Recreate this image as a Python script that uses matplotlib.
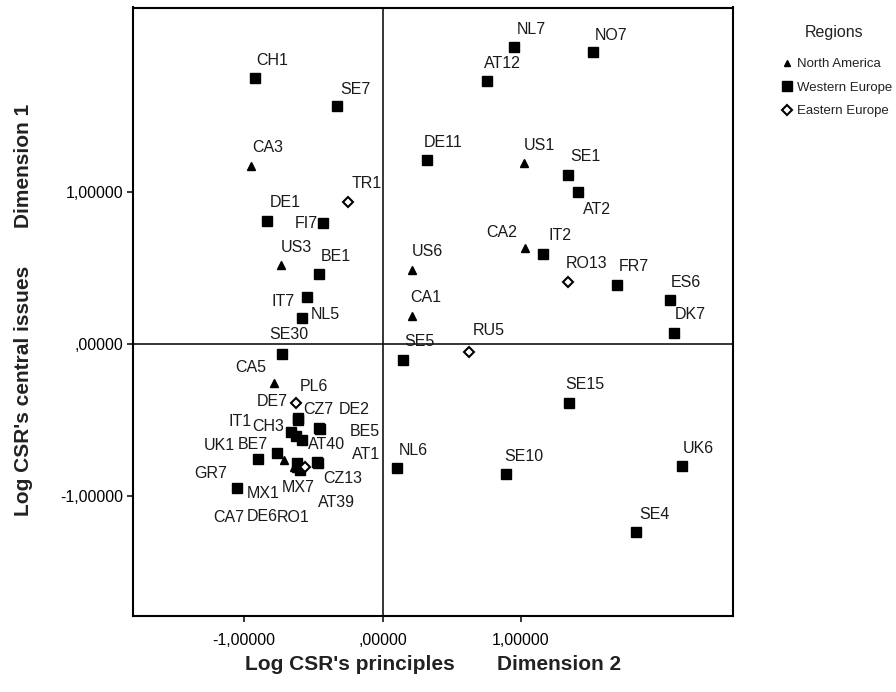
import matplotlib
matplotlib.use('Agg')
import matplotlib.pyplot as plt
from matplotlib import font_manager
from matplotlib.lines import Line2D
from matplotlib.ticker import FixedLocator, FuncFormatter

# ---------------- data ----------------
na_labels = ['CA3', 'US3', 'CA5', 'US6', 'CA1', 'US1', 'CA2', 'MX1', 'MX7', 'CA7']
na_x = [-0.949, -0.735, -0.781, 0.213, 0.211, 1.022, 1.031, -0.711, -0.625, -0.639]
na_y = [1.168, 0.516, -0.258, 0.484, 0.183, 1.186, 0.630, -0.766, -0.819, -0.813]

we_labels = ['CH1', 'SE7', 'DE1', 'FI7', 'BE1', 'IT7', 'NL5', 'SE30', 'DE7', 'CZ7',
             'DE2', 'BE5', 'IT1', 'CH3', 'AT40', 'UK1', 'BE7', 'AT39', 'DE6', 'CZ13',
             'AT1', 'GR7', 'NL7', 'NO7', 'AT12', 'DE11', 'SE1', 'AT2', 'IT2', 'FR7',
             'ES6', 'DK7', 'SE5', 'SE15', 'NL6', 'SE10', 'UK6', 'SE4']
we_x = [-0.921, -0.329, -0.832, -0.427, -0.456, -0.547, -0.579, -0.729, -0.610, -0.608,
        -0.456, -0.451, -0.661, -0.625, -0.581, -0.897, -0.762, -0.617, -0.596, -0.471,
        -0.466, -1.053, 0.952, 1.522, 0.755, 0.319, 1.337, 1.409, 1.159, 1.693,
        2.074, 2.105, 0.146, 1.344, 0.107, 0.892, 2.160, 1.830]
we_y = [1.747, 1.563, 0.806, 0.793, 0.457, 0.308, 0.166, -0.069, -0.490, -0.500,
        -0.554, -0.563, -0.582, -0.609, -0.635, -0.762, -0.720, -0.786, -0.832, -0.778,
        -0.786, -0.949, 1.953, 1.916, 1.727, 1.207, 1.109, 0.999, 0.589, 0.385,
        0.286, 0.067, -0.109, -0.389, -0.817, -0.859, -0.804, -1.242]

ee_labels = ['TR1', 'RO13', 'RU5', 'PL6', 'RO1']
ee_x = [-0.251, 1.342, 0.627, -0.625, -0.560]
ee_y = [0.929, 0.407, -0.054, -0.393, -0.813]

region_names = ['North America', 'Western Europe', 'Eastern Europe']
tick_values = [-1.0, 0.0, 1.0]

# label offsets in pixels (dx to label's left edge, dy downward to label centre)
label_offsets = {
    'CA3': (1, -18), 'US3': (0, -18), 'CA5': (-39, -15), 'US6': (0, -18),
    'CA1': (-1, -18), 'US1': (0, -18), 'CA2': (-39, -15), 'MX1': (-37, 34),
    'MX7': (-14, 20), 'CA7': (-81, 50),
    'CH1': (1, -17), 'SE7': (3, -16), 'DE1': (2, -18), 'FI7': (-29, 1),
    'BE1': (1, -18), 'IT7': (-35, 5), 'NL5': (8, -4), 'SE30': (-12, -19),
    'DE7': (-41, -16), 'CZ7': (5, -10), 'DE2': (19, -18), 'BE5': (30, 2),
    'IT1': (-62, -10), 'CH3': (-44, -10), 'AT40': (6, 4), 'UK1': (-55, -14),
    'BE7': (-39, -8), 'AT39': (21, 40), 'DE6': (-53, 47), 'CZ13': (6, 17),
    'AT1': (34, -8), 'GR7': (-42, -14), 'NL7': (2, -17), 'NO7': (1, -17),
    'AT12': (-3, -17), 'DE11': (-3, -18), 'SE1': (3, -18), 'AT2': (5, 18),
    'IT2': (5, -18), 'FR7': (2, -18), 'ES6': (1, -18), 'DK7': (1, -19),
    'SE5': (2, -19), 'SE15': (-3, -18), 'NL6': (1, -17), 'SE10': (-2, -18),
    'UK6': (1, -17), 'SE4': (3, -18),
    'TR1': (4, -19), 'RO13': (-3, -18), 'RU5': (3, -21), 'PL6': (4, -17),
    'RO1': (-28, 50),
}

# ---------------- fonts ----------------
def has_font(name):
    try:
        font_manager.findfont(name, fallback_to_default=False)
        return True
    except Exception:
        return False

base_font = 'Liberation Sans' if has_font('Liberation Sans') else 'DejaVu Sans'
plt.rcParams['font.family'] = [base_font, 'DejaVu Sans']

W, H, DPI = 896, 692, 100
fig = plt.figure(figsize=(W / DPI, H / DPI), dpi=DPI)
L, R, T, B = 132.7, 733.0, 7.5, 616.0
ax = fig.add_axes([L / W, 1 - B / H, (R - L) / W, (B - T) / H])

x0, xs = 382.5, 138.5
y0, ys = 343.5, 152.0
ax.set_xlim((L - x0) / xs, (R - x0) / xs)
ax.set_ylim((y0 - B) / ys, (y0 - T) / ys)

ax.axhline(0, color='black', lw=1.1, zorder=1)
ax.axvline(0, color='black', lw=1.1, zorder=1)

ax.plot(na_x, na_y, linestyle='none', marker='^', ms=5.8, color='black', zorder=3)
ax.plot(we_x, we_y, linestyle='none', marker='s', ms=7.2, color='black', zorder=3)
ax.plot(ee_x, ee_y, linestyle='none', marker='D', ms=5.6, mfc='white', mec='black',
        mew=1.5, zorder=4)

label_fs = 11.5
for labels, xs_, ys_ in [(na_labels, na_x, na_y), (we_labels, we_x, we_y), (ee_labels, ee_x, ee_y)]:
    for lbl, xv, yv in zip(labels, xs_, ys_):
        dx, dy = label_offsets[lbl]
        ax.annotate(lbl, (xv, yv), xytext=(dx, -dy), textcoords='offset pixels',
                    ha='left', va='center', fontsize=label_fs, color='#1a1a1a', zorder=5)

fmt = FuncFormatter(lambda v, p: ',00000' if abs(v) < 1e-9 else f'{v:.5f}'.replace('.', ','))
ax.xaxis.set_major_locator(FixedLocator(tick_values))
ax.yaxis.set_major_locator(FixedLocator(tick_values))
ax.xaxis.set_major_formatter(fmt)
ax.yaxis.set_major_formatter(fmt)
ax.tick_params(direction='out', length=4, width=1.1, labelsize=11.5, pad=8, colors='black')
ax.tick_params(axis='y', pad=3)
for s in ax.spines.values():
    s.set_linewidth(1.5)

# axis titles (two pieces each, bold)
tkw = dict(fontweight='bold', fontsize=15, color='#222222')
fig.text(350 / W, 1 - 665 / H, "Log CSR's principles", ha='center', va='center', **tkw)
fig.text(559 / W, 1 - 665 / H, 'Dimension 2', ha='center', va='center', **tkw)
fig.text(24 / W, 1 - 391 / H, "Log CSR's central issues", ha='center', va='center', rotation=90, **tkw)
fig.text(24 / W, 1 - 166 / H, 'Dimension 1', ha='center', va='center', rotation=90, **tkw)

# legend
fig.text(834 / W, 1 - 32 / H, 'Regions', ha='center', va='center', fontsize=11.5, color='#222222')
handles = [
    Line2D([], [], linestyle='none', marker='^', ms=4.5, color='black'),
    Line2D([], [], linestyle='none', marker='s', ms=6.5, color='black'),
    Line2D([], [], linestyle='none', marker='D', ms=5, mfc='white', mec='black', mew=1.5),
]
leg = fig.legend(handles, region_names, loc='upper left',
                 bbox_to_anchor=(782 / W, 1 - 58 / H), frameon=False, fontsize=9.5,
                 handlelength=0.8, handletextpad=0.35, labelspacing=0.85, borderpad=0,
                 borderaxespad=0)
for t in leg.get_texts():
    t.set_color('#222222')

fig.savefig('out.png', dpi=DPI)
